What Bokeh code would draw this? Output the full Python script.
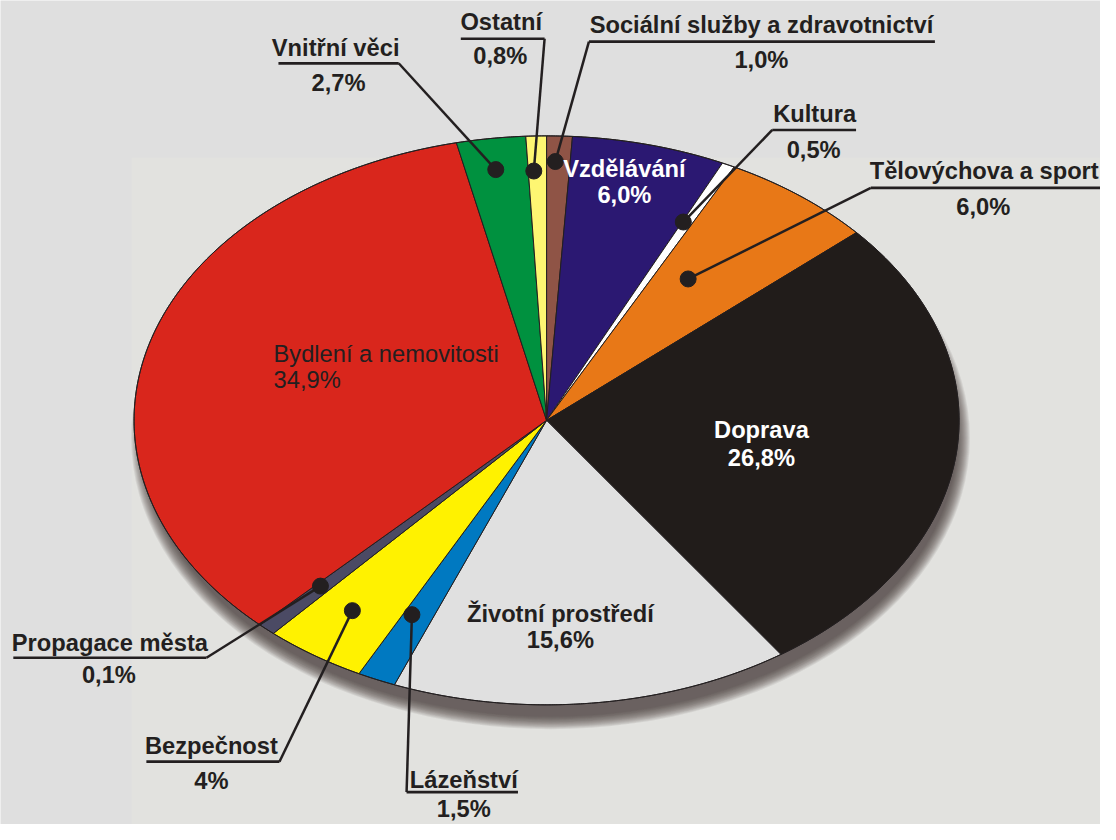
import numpy as np
from bokeh.plotting import figure
from bokeh.models import Range1d
from bokeh.core.properties import value
from bokeh.embed import file_html
from bokeh.resources import INLINE

# ---------------- data ----------------
categories = ["Sociální služby a zdravotnictví", "Vzdělávání", "Kultura",
              "Tělovýchova a sport", "Doprava", "Životní prostředí", "Lázeňství",
              "Bezpečnost", "Propagace města", "Bydlení a nemovitosti",
              "Vnitřní věci", "Ostatní"]
# slice sizes as drawn in the picture (percent)
shares = [1.0, 6.0, 0.5, 6.0, 26.8, 15.6, 1.5, 4.0, 0.7, 34.2, 2.7, 0.8]
# percentages printed in the labels
pct_labels = ["1,0%", "6,0%", "0,5%", "6,0%", "26,8%", "15,6%", "1,5%", "4%",
              "0,1%", "34,9%", "2,7%", "0,8%"]
colors = ["#8f5446", "#2b1872", "#ffffff", "#e87817", "#211c1a", "#e0e0e0",
          "#0079c1", "#fff200", "#4b4a64", "#d9261c", "#00913f", "#fef672"]

# ---------------- layout ----------------
W, H = 1100, 824          # figure size in pixels
REF_W, REF_H = 1116, 840  # drawing coordinate space
S = W / REF_W
BG = "#dfdfdf"
INK = "#231f20"
CX, CY, RX, RY = 554.0, 428.0, 418.5, 290.0
FONT = value("Liberation Sans")
FS = value(f"{24 * S:.1f}px")

# outside labels: category index -> (name x, name y, underline y, ul x0, ul x1,
#                                    attach x, pct y, pct x, frac in slice, radius)
outside = {
    10: (340, 48, 64, 282, 404, 404, 84, 343, 0.48, 0.89),
    11: (508, 22, 39, 467, 552, 552, 57, 507, 0.30, 0.877),
    0:  (772, 25, 42, 597, 948, 597, 61, 772, 0.37, 0.91),
    2:  (826, 116, 132, 783, 868, 783, 152, 825, 0.10, 0.772),
    3:  (998, 174, 191, 883, 1116, 883, 210, 997, 0.35, 0.604),
    8:  (111, 655, 670, 13, 209, 209, 688, 110, 0.70, 0.80),
    7:  (214, 760, 776, 148, 283, 283, 796, 214, 0.56, 0.818),
    6:  (470, 795, 807, 412, 525, 412, 824, 470, 0.72, 0.757),
}
# inside labels: index -> (x, y name, y pct, colour, align, weight)
inside = {
    1: (633, 172, 198, "#ffffff", "center", "bold"),
    4: (772, 438, 466, "#ffffff", "center", "bold"),
    5: (568, 625, 652, INK, "center", "bold"),
    9: (277, 360, 387, INK, "left", "normal"),
}

p = figure(width=W, height=H, x_range=Range1d(0, REF_W), y_range=Range1d(REF_H, 0),
           output_backend="svg", toolbar_location=None, min_border=0,
           x_axis_type=None, y_axis_type=None)
p.background_fill_color = BG
p.border_fill_color = BG
p.outline_line_color = None
p.xgrid.visible = False
p.ygrid.visible = False

# faint lighter panel behind the pie
p.quad(left=[133], right=[REF_W], top=[160], bottom=[REF_H], fill_color="#e2e2df", line_color=None)

# soft shadow
for k in range(14):
    g = 14 - 2.0 * k
    p.ellipse(x=[CX + 4], y=[CY + 18], width=[2 * RX + g], height=[2 * RY + g],
              fill_color="#3f3c3a", fill_alpha=0.09, line_color=None)

total = float(sum(shares))
cum = np.concatenate([[0.0], np.cumsum(shares)]) / total
t0 = 2 * np.pi * cum[:-1]
t1 = 2 * np.pi * cum[1:]

def ell(t, r=1.0):
    return CX + RX * r * np.sin(t), CY - RY * r * np.cos(t)

xs, ys = [], []
for a, b in zip(t0, t1):
    n = max(3, int((b - a) / (2 * np.pi) * 720))
    tt = np.linspace(a, b, n)
    ex, ey = ell(tt)
    xs.append([CX] + list(ex))
    ys.append([CY] + list(ey))

p.patches(xs, ys, fill_color=colors, line_color=INK, line_width=1)
tt = np.linspace(0, 2 * np.pi, 1441)
rx_, ry_ = ell(tt)
p.line(rx_, ry_, line_color=INK, line_width=1)

# leaders, dots, labels
for i, (nx, ny, uy, ux0, ux1, ax, py, px, frac, rr) in outside.items():
    t = t0[i] + frac * (t1[i] - t0[i])
    dx, dy = ell(t, rr)
    p.line([dx, ax], [dy, uy], line_color=INK, line_width=2.5)
    p.line([ux0, ux1], [uy, uy], line_color=INK, line_width=2.7)
    p.scatter([dx], [dy], size=16, fill_color=INK, line_color=INK)
    p.text([nx], [ny], text=[categories[i]], text_align="center", text_baseline="middle",
           text_font=FONT, text_font_size=FS, text_font_style="bold", text_color=INK)
    p.text([px], [py], text=[pct_labels[i]], text_align="center", text_baseline="middle",
           text_font=FONT, text_font_size=FS, text_font_style="bold", text_color=INK)

for i, (x, y1, y2, col, al, st) in inside.items():
    p.text([x], [y1], text=[categories[i]], text_align=al, text_baseline="middle",
           text_font=FONT, text_font_size=FS, text_font_style=st, text_color=col)
    p.text([x], [y2], text=[pct_labels[i]], text_align=al, text_baseline="middle",
           text_font=FONT, text_font_size=FS, text_font_style=st, text_color=col)

open("out.html", "w").write(file_html(p, INLINE))
